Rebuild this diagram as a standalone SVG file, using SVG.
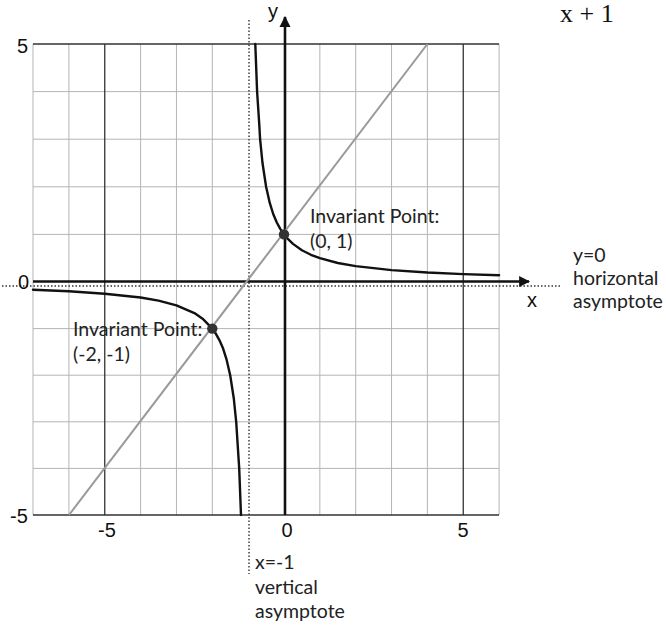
<svg xmlns="http://www.w3.org/2000/svg" width="666" height="626" viewBox="0 0 666 626">
<style>
.minor{stroke:#b4b4b4;stroke-width:1;fill:none}
.major{stroke:#333;stroke-width:1.3;fill:none}
.axis{stroke:#111;stroke-width:2.6;fill:none}
.dot{stroke:#333;stroke-width:1.4;stroke-dasharray:1.5 2;fill:none}
.curve{stroke:#111;stroke-width:2.4;fill:none;stroke-linejoin:round;stroke-linecap:round}
.ident{stroke:#999;stroke-width:2;fill:none}
.num{font-family:"Liberation Sans",Arial,sans-serif;font-size:20px;fill:#111}
.lbl{font-family:Lato,"Open Sans",sans-serif;font-size:19.5px;fill:#222}
.serif{font-family:"Liberation Serif","Times New Roman",serif;font-size:26px;fill:#111}
</style>
<defs>
<marker id="arr" viewBox="0 0 10 10" refX="9" refY="5" markerWidth="11" markerHeight="11" markerUnits="userSpaceOnUse" orient="auto">
<path d="M0,0 L10,5 L0,10 z" fill="#111"/>
</marker>
<marker id="arrY" viewBox="0 0 10 10" refX="9" refY="5" markerWidth="11" markerHeight="13" markerUnits="userSpaceOnUse" orient="auto">
<path d="M0,0 L10,5 L0,10 z" fill="#111"/>
</marker>
</defs>
<rect width="666" height="626" fill="#fff"/>
<text class="serif" x="560" y="22">x + 1</text>
<g id="grid">
<path class="minor" d="M33,44V515 M68.9,44V515 M140.6,44V515 M176.45,44V515 M212.3,44V515 M319.85,44V515 M355.7,44V515 M391.55,44V515 M427.4,44V515 M499.1,44V515"/>
<path class="minor" d="M33,91.6H499 M33,139.2H499 M33,186.8H499 M33,234.4H499 M33,328.6H499 M33,375.2H499 M33,421.8H499 M33,468.4H499"/>
<path class="major" d="M104.75,44V515 M463.25,44V515 M33,44H499 M33,515H499"/>
</g>
<g id="asymptotes">
<path class="dot" d="M249,20V574"/>
<path class="dot" d="M2,286H562"/>
</g>
<g id="axes">
<path class="axis" d="M285,515V17" marker-end="url(#arrY)"/>
<path class="axis" d="M33,281.5H529" marker-end="url(#arr)"/>
</g>
<g id="identity-line">
<path class="ident" d="M69,515L427.4,44"/>
</g>
<g id="curve">
<polyline class="curve" points="255.3,44 257.1,91.6 259.2,123.3 260.1,139.2 262.5,163 266.1,186.8 269.7,202.7 273.2,214 276.8,222.5 280.4,229.1 284,234.4 287.6,238.7 293,243.9 301.9,250.3 310.9,254.8 319.85,258.2 337.8,263 355.7,266.1 391.6,270.1 427.4,272.5 463.3,274.1 499.1,275.2"/>
<polyline class="curve" points="33,289.8 68.9,291.3 104.75,293.7 140.6,297.5 158.5,300.6 176.45,305.3 194.4,313.1 203.3,319.3 212.3,328.6 215.9,333.8 219.5,340.3 223.1,348.6 226.6,359.7 230.2,375.2 233.8,398.5 236.2,421.8 239.2,468.4 241,515"/>
</g>
<g id="point-0-1">
<circle cx="284" cy="234.4" r="5.2" fill="#333"/>
<text class="lbl" x="310" y="223">Invariant Point:</text>
<text class="lbl" x="310" y="248">(0, 1)</text>
</g>
<g id="point-m2-m1">
<circle cx="212.3" cy="328.6" r="5.2" fill="#333"/>
<text class="lbl" x="73" y="336">Invariant Point:</text>
<text class="lbl" x="73" y="361">(-2, -1)</text>
</g>
<g id="axis-labels">
<text class="num" x="268" y="18">y</text>
<text class="num" x="527" y="307">x</text>
<text class="num" x="17" y="53">5</text>
<text class="num" x="18" y="289">0</text>
<text class="num" x="10" y="523">-5</text>
<text class="num" x="107" y="537" text-anchor="middle">-5</text>
<text class="num" x="287" y="537" text-anchor="middle">0</text>
<text class="num" x="463" y="537" text-anchor="middle">5</text>
</g>
<g id="horizontal-asymptote-label">
<text class="lbl" x="573" y="262">y=0</text>
<text class="lbl" x="573" y="285">horizontal</text>
<text class="lbl" x="573" y="308">asymptote</text>
</g>
<g id="vertical-asymptote-label">
<text class="lbl" x="255" y="569">x=-1</text>
<text class="lbl" x="255" y="594">vertical</text>
<text class="lbl" x="255" y="618">asymptote</text>
</g>
</svg>
